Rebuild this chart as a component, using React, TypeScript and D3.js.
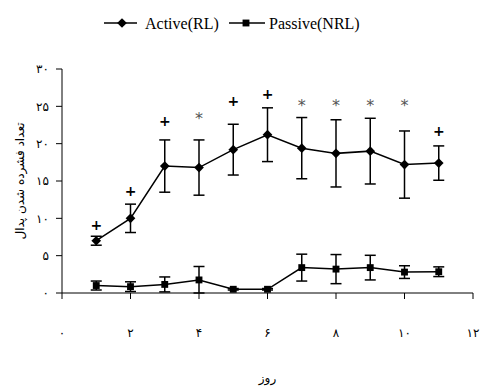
import React from "react";
import * as d3 from "d3";

const days = [1, 2, 3, 4, 5, 6, 7, 8, 9, 10, 11];
const activeMean = [7.0, 10.0, 17.0, 16.8, 19.2, 21.2, 19.4, 18.7, 19.0, 17.2, 17.4];
const activeErr = [0.6, 1.9, 3.5, 3.7, 3.4, 3.6, 4.1, 4.5, 4.4, 4.5, 2.3];
const passiveMean = [1.0, 0.85, 1.15, 1.75, 0.5, 0.5, 3.4, 3.2, 3.4, 2.8, 2.85];
const passiveErr = [0.6, 0.65, 1.0, 1.8, 0.1, 0.1, 1.8, 1.95, 1.65, 0.85, 0.65];
const marks = ["+", "+", "+", "*", "+", "+", "*", "*", "*", "*", "+"];
const markY = [9.1, 13.7, 23.0, 24.2, 25.7, 26.6, 25.9, 25.9, 25.9, 25.9, 21.7];
const xTicks = [0, 2, 4, 6, 8, 10, 12];
const yTicks = [0, 5, 10, 15, 20, 25, 30];
const seriesNames = ["Active(RL)", "Passive(NRL)"];
const xTitle = "روز";
const yTitle = "تعداد فشرده شدن پدال";

const fa = (n: number) => String(n).replace(/\d/g, (d) => "۰۱۲۳۴۵۶۷۸۹"[+d]);

export default function App() {
  const W = 481, H = 390;
  const x = d3.scaleLinear().domain([0, 12]).range([62, 473]);
  const y = d3.scaleLinear().domain([0, 30]).range([293, 69]);
  const line = d3.line<number>().x((_, i) => x(days[i])).y((v) => y(v));
  const diamond = d3.symbol().type(d3.symbolDiamond2).size(60)();
  const square = d3.symbol().type(d3.symbolSquare2).size(60)();
  const capW = 5.5;
  const persian = "'DejaVu Sans', 'Noto Sans', sans-serif";

  const errBars = (means: number[], errs: number[], key: string) =>
    means.map((m, i) => {
      const cx = x(days[i]);
      const t = y(m + errs[i]);
      const b = y(Math.max(0, m - errs[i]));
      return (
        <g key={key + i} stroke="#000" strokeWidth={1.5}>
          <line x1={cx} x2={cx} y1={t} y2={b} />
          <line x1={cx - capW} x2={cx + capW} y1={t} y2={t} />
          <line x1={cx - capW} x2={cx + capW} y1={b} y2={b} />
        </g>
      );
    });

  return (
    <svg width={W} height={H} style={{ position: "absolute", left: 0, top: 0, background: "#fff" }}>
      <rect width={W} height={H} fill="#fff" />
      {/* Legend */}
      <g>
        <line x1={104} x2={137} y1={23} y2={23} stroke="#000" strokeWidth={1.3} />
        <path d={diamond} transform={`translate(122,23)`} fill="#000" />
        <text x={145} y={29} fontFamily="'Liberation Serif', 'Times New Roman', serif" fontSize={16}>
          {seriesNames[0]}
        </text>
        <line x1={229} x2={265} y1={23} y2={23} stroke="#000" strokeWidth={1.3} />
        <path d={square} transform={`translate(246,23)`} fill="#000" />
        <text x={269} y={29} fontFamily="'Liberation Serif', 'Times New Roman', serif" fontSize={16}>
          {seriesNames[1]}
        </text>
      </g>
      {/* Axes */}
      <line x1={x(0)} x2={x(0)} y1={y(30)} y2={y(0)} stroke="#000" strokeWidth={1} />
      <line x1={x(0)} x2={x(12)} y1={y(0)} y2={y(0)} stroke="#000" strokeWidth={1} />
      {yTicks.map((t) => (
        <g key={"yt" + t}>
          <line x1={x(0) - 6} x2={x(0)} y1={y(t)} y2={y(t)} stroke="#000" />
          <text x={49} y={y(t)} dy="0.35em" textAnchor="end" fontFamily={persian} fontSize={12} direction="ltr">
            {fa(t)}
          </text>
        </g>
      ))}
      {xTicks.map((t) => (
        <g key={"xt" + t}>
          <line x1={x(t)} x2={x(t)} y1={y(0)} y2={y(0) + 6} stroke="#000" />
          <text x={x(t)} y={337} textAnchor="middle" fontFamily={persian} fontSize={12} direction="ltr">
            {fa(t)}
          </text>
        </g>
      ))}
      <text x={x(6)} y={382} textAnchor="middle" fontFamily={persian} fontSize={12} direction="rtl">
        {xTitle}
      </text>
      <text
        transform={`translate(24,${y(15)}) rotate(-90)`}
        textAnchor="middle"
        fontFamily={persian}
        fontSize={12}
        direction="rtl"
      >
        {yTitle}
      </text>
      {/* Error bars */}
      {errBars(activeMean, activeErr, "a")}
      {errBars(passiveMean, passiveErr, "p")}
      {/* Lines */}
      <path d={line(activeMean) || ""} fill="none" stroke="#000" strokeWidth={1.5} />
      <path d={line(passiveMean) || ""} fill="none" stroke="#000" strokeWidth={1.5} />
      {activeMean.map((v, i) => (
        <path key={"ad" + i} d={diamond} transform={`translate(${x(days[i])},${y(v)})`} fill="#000" />
      ))}
      {passiveMean.map((v, i) => (
        <path key={"ps" + i} d={square} transform={`translate(${x(days[i])},${y(v)})`} fill="#000" />
      ))}
      {/* Significance marks */}
      {marks.map((m, i) =>
        m === "+" ? (
          <text key={"m" + i} x={x(days[i])} y={y(markY[i])} dy="0.35em" textAnchor="middle"
            fontFamily="'DejaVu Sans', sans-serif" fontSize={14} fontWeight="bold">
            +
          </text>
        ) : (
          <text key={"m" + i} x={x(days[i])} y={y(markY[i])} dy="0.7em" textAnchor="middle"
            fontFamily="'DejaVu Sans', sans-serif" fontSize={16} fill="#555">
            *
          </text>
        )
      )}
    </svg>
  );
}
